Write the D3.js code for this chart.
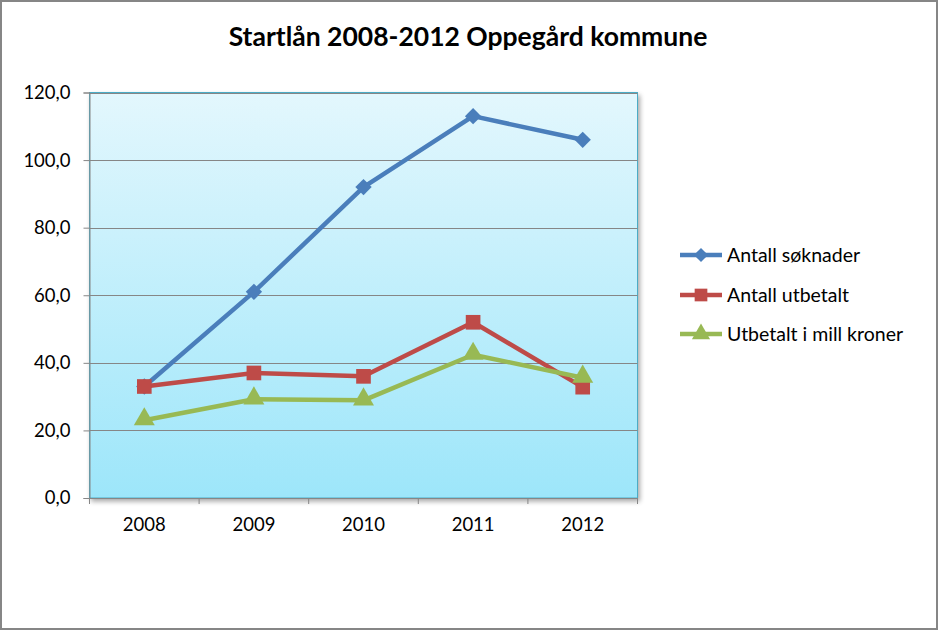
<!DOCTYPE html>
<html><head><meta charset="utf-8">
<script src="https://cdn.jsdelivr.net/npm/d3@7"></script>
<style>html,body{margin:0;padding:0;background:#fff;}svg{display:block;}</style>
</head><body>
<script>
const years = ["2008","2009","2010","2011","2012"];
const soknader = [33, 61, 92, 113, 106];
const utbetalt = [33, 37, 36, 52, 32.8];
const millKroner = [23, 29.2, 28.9, 42.4, 35.6];
const yTicks = [0, 20, 40, 60, 80, 100, 120];
const seriesNames = ["Antall søknader", "Antall utbetalt", "Utbetalt i mill kroner"];
const seriesColors = ["#4a7ebb", "#be4b48", "#98b954"];
const seriesShapes = [d3.symbolDiamond2 || d3.symbolDiamond, d3.symbolSquare, d3.symbolTriangle];

const W = 938, H = 630;
const font = "Lato, 'Open Sans', sans-serif";
const svg = d3.select("body").append("svg").attr("width", W).attr("height", H);
const defs = svg.append("defs");
const grad = defs.append("linearGradient").attr("id","bg").attr("x1",0).attr("y1",0).attr("x2",0).attr("y2",1);
grad.append("stop").attr("offset","0%").attr("stop-color","#e3f7fd");
grad.append("stop").attr("offset","100%").attr("stop-color","#9de6fa");
const sh = defs.append("filter").attr("id","sh").attr("x","-5%").attr("y","-5%").attr("width","115%").attr("height","115%");
sh.append("feGaussianBlur").attr("in","SourceAlpha").attr("stdDeviation",2.5);
sh.append("feOffset").attr("dx",2).attr("dy",3).attr("result","b");
sh.append("feComponentTransfer").append("feFuncA").attr("type","linear").attr("slope",0.35);
const m = sh.append("feMerge"); m.append("feMergeNode"); m.append("feMergeNode").attr("in","SourceGraphic");

// outer border
svg.append("rect").attr("x",1).attr("y",1).attr("width",W-2).attr("height",H-2)
  .attr("fill","#fff").attr("stroke","#868686").attr("stroke-width",2);

svg.append("text").attr("x",468).attr("y",46).attr("text-anchor","middle")
  .attr("font-family",font).attr("font-weight","bold").attr("font-size",26.5).attr("fill","#000")
  .text("Startlån 2008-2012 Oppegård kommune");

const L = 89.5, R = 637.5, T = 92.5, B = 498;
const x = d3.scaleBand().domain(years).range([L, R]);
const y = d3.scaleLinear().domain([0, 120]).range([B, T]);

svg.append("rect").attr("x",L).attr("y",T).attr("width",R-L).attr("height",B-T)
  .attr("fill","url(#bg)").attr("stroke","#4bacc6").attr("stroke-width",1).attr("filter","url(#sh)");

// gridlines
svg.append("g").selectAll("line").data(yTicks.filter(d=>d>0)).join("line")
  .attr("x1",L).attr("x2",R).attr("y1",d=>Math.round(y(d))+0.5).attr("y2",d=>Math.round(y(d))+0.5)
  .attr("stroke","#868686").attr("stroke-width",1);

// y axis
const yAxis = svg.append("g").attr("transform",`translate(${L},0)`)
  .call(d3.axisLeft(y).tickValues(yTicks).tickSize(6).tickPadding(13)
    .tickFormat(d => d3.format(".1f")(d).replace(".", ",")));
yAxis.select(".domain").attr("stroke","#868686");
yAxis.selectAll(".tick line").attr("stroke","#868686");
yAxis.selectAll("text").attr("font-family",font).attr("font-size",18.5).attr("fill","#000");

// x axis
const xAxis = svg.append("g").attr("transform",`translate(0,${B})`)
  .call(d3.axisBottom(x).tickSize(0).tickPadding(20));
xAxis.select(".domain").attr("stroke","#868686");
xAxis.selectAll("text").attr("font-family",font).attr("font-size",18.5).attr("fill","#000");
const bounds = years.map(d => x(d)).concat([R]);
svg.append("g").selectAll("line").data(bounds).join("line")
  .attr("x1",d=>d).attr("x2",d=>d).attr("y1",B).attr("y2",B+6).attr("stroke","#868686");

const all = [soknader, utbetalt, millKroner];
const cx = d => x(d) + x.bandwidth()/2;
const line = d3.line().x((v,i)=>cx(years[i])).y(v=>y(v));
const sizes = [170, 215, 190];
all.forEach((vals, k) => {
  const g = svg.append("g");
  g.append("path").datum(vals).attr("d", line).attr("fill","none")
    .attr("stroke",seriesColors[k]).attr("stroke-width",4.5).attr("stroke-linejoin","round");
  g.selectAll("path.mk").data(vals).join("path").attr("class","mk")
    .attr("transform",(v,i)=>`translate(${cx(years[i])},${y(v) + (k===2?-1:0)})`)
    .attr("d", d3.symbol().type(seriesShapes[k]).size(sizes[k]))
    .attr("fill",seriesColors[k]);
});

// legend
const legY = [255, 295, 334];
seriesNames.forEach((name, k) => {
  const g = svg.append("g").attr("transform",`translate(0,${legY[k]})`);
  g.append("line").attr("x1",680).attr("x2",722).attr("y1",0).attr("y2",0)
    .attr("stroke",seriesColors[k]).attr("stroke-width",4.5);
  g.append("path").attr("transform","translate(701,0)")
    .attr("d", d3.symbol().type(seriesShapes[k]).size(sizes[k]*0.75)).attr("fill",seriesColors[k]);
  g.append("text").attr("x",727).attr("y",6.5).attr("font-family",font).attr("font-size",19.5)
    .attr("fill","#000").text(name);
});
</script>
</body></html>
